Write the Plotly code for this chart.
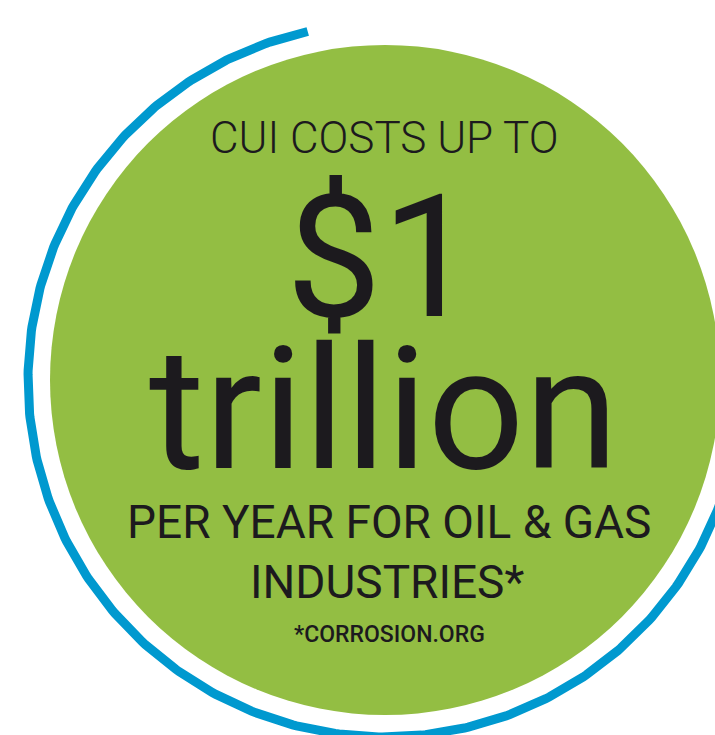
import numpy as np
import plotly.graph_objects as go

W, H = 715, 735

# content
headline_top = "CUI COSTS UP TO"
big_value = "$1"
big_unit = "trillion"
sub_lines = ["PER YEAR FOR OIL & GAS", "INDUSTRIES*"]
source = "*CORROSION.ORG"

# geometry (pixels)
cx, cy = 385, 380
r_green = 335
r_blue = 357
arc_start_deg, arc_end_deg = 102.5, 355  # counter-clockwise from start through left/bottom

GREEN = "#93BE43"
BLUE = "#0099CF"
INK = "#1C1A1E"

fig = go.Figure()

fig.add_shape(type="circle", xref="x", yref="y",
              x0=cx - r_green, x1=cx + r_green, y0=cy - r_green, y1=cy + r_green,
              fillcolor=GREEN, line=dict(width=0), layer="below")

th = np.deg2rad(np.linspace(arc_start_deg, arc_end_deg, 400))
fig.add_trace(go.Scatter(x=cx + r_blue * np.cos(th), y=cy - r_blue * np.sin(th),
                         mode="lines", line=dict(color=BLUE, width=9),
                         hoverinfo="skip", showlegend=False))

FONT = "Roboto"
def txt(s, x, y, size, weight=400):
    fig.add_annotation(x=x, y=y, xref="x", yref="y", text=s, showarrow=False,
                       xanchor="center", yanchor="middle",
                       font=dict(family=FONT, size=size, color=INK, weight=weight))

txt(headline_top, 384, 138, 44, 300)
txt(big_value, 381, 258, 170, 400)
txt(big_unit, 383, 410, 170, 400)
txt(sub_lines[0], 389, 522, 46, 400)
txt(sub_lines[1], 387, 582, 46, 400)
txt(source, 389, 634, 23, 500)

fig.update_xaxes(range=[0, W], visible=False, fixedrange=True)
fig.update_yaxes(range=[H, 0], visible=False, fixedrange=True)
fig.update_layout(width=W, height=H, margin=dict(l=0, r=0, t=0, b=0),
                  paper_bgcolor="white", plot_bgcolor="white", showlegend=False)

fig.write_html("out.html", config={"displayModeBar": False},
               post_script="document.body.style.margin='0';document.body.style.overflow='hidden';")
